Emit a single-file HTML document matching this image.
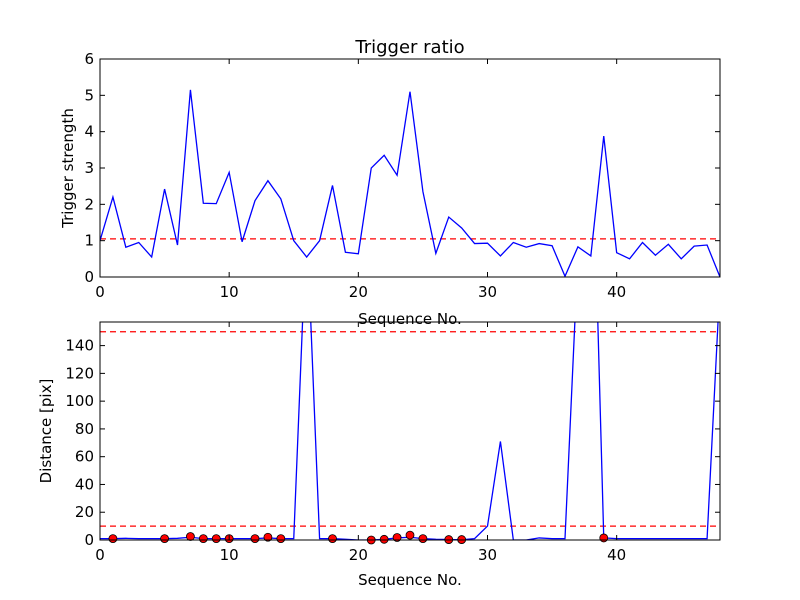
<!DOCTYPE html>
<html><head><meta charset="utf-8"><style>
body{margin:0;background:#fff;}
svg{display:block;font-family:"DejaVu Sans","Liberation Sans",sans-serif;}
</style></head><body>
<svg id="chart" width="800" height="600">
<rect width="800" height="600" fill="#fff"/>
<text x="410" y="53" font-size="18" text-anchor="middle">Trigger ratio</text>
<g id="top"></g><g id="bot"></g>
<text x="410" y="324" font-size="15" text-anchor="middle">Sequence No.</text>
<text x="410" y="585" font-size="15" text-anchor="middle">Sequence No.</text>
<text transform="translate(73,168) rotate(-90)" font-size="15" text-anchor="middle">Trigger strength</text>
<text transform="translate(51,431) rotate(-90)" font-size="15" text-anchor="middle">Distance [pix]</text>
</svg>
<script>
const strength=[1.0,2.2,0.82,0.95,0.55,2.42,0.88,5.15,2.03,2.02,2.88,0.97,2.1,2.65,2.15,1.0,0.55,1.0,2.52,0.68,0.64,3.0,3.35,2.8,5.1,2.35,0.65,1.65,1.35,0.92,0.93,0.58,0.95,0.82,0.92,0.86,0.02,0.83,0.58,3.88,0.67,0.5,0.95,0.6,0.9,0.5,0.85,0.88,0.0];
const strengthThreshold=1.05;
const distance=[1,1,1.2,1,1,1,1.2,2,1,1,1,1,1,1.5,1,1,230,1,1,0.5,0,0,0.5,1.5,2,1,0.5,0.3,0.2,1,10,71,0,0,1.5,1,1,205,340,1.5,1,1,1,1,1,1,1,1,185];
const dotIdx=[1,5,7,8,9,10,12,13,14,18,21,22,23,24,25,27,28,39];
const dotVal=[1,1,2.5,1,1,1,1,2,1,1,0,0.5,1.8,3.5,1,0.3,0.3,1.5];
const distThresholds=[10,150];
const xTicks=[0,10,20,30,40];
const topYTicks=[0,1,2,3,4,5,6];
const botYTicks=[0,20,40,60,80,100,120,140];
const NS='http://www.w3.org/2000/svg';
const L=100,R=720;
const xs=v=>L+v*(R-L)/48;
function mk(p,t,a){const e=document.createElementNS(NS,t);for(const k in a)e.setAttribute(k,a[k]);p.appendChild(e);return e;}
function panel(g,top,bot,ymax,name){
  const ys=v=>bot-v*(bot-top)/ymax;
  const cp=mk(g,'clipPath',{id:'c'+name});mk(cp,'rect',{x:L,y:top,width:R-L,height:bot-top});
  return ys;
}
function axes(g,top,bot,ys,yt,name){
  const f=mk(g,'rect',{x:L,y:top,width:R-L,height:bot-top,fill:'none',stroke:'#000','stroke-width':1});
  
  xTicks.forEach(t=>{const x=xs(t);
    mk(g,'line',{x1:x,x2:x,y1:bot,y2:bot-5,stroke:'#000'});mk(g,'line',{x1:x,x2:x,y1:top,y2:top+5,stroke:'#000'});
    const tx=mk(g,'text',{x:x,y:bot+20,'font-size':15,'text-anchor':'middle'});tx.textContent=t;
    });
  yt.forEach(t=>{const y=ys(t);
    mk(g,'line',{x1:L,x2:L+5,y1:y,y2:y,stroke:'#000'});mk(g,'line',{x1:R,x2:R-5,y1:y,y2:y,stroke:'#000'});
    const tx=mk(g,'text',{x:L-6,y:y+5,'font-size':15,'text-anchor':'end'});tx.textContent=t;
    });
}
const gt=document.getElementById('top');
const ysT=panel(gt,59,277,6,'top');
let l=mk(gt,'line',{x1:L,x2:R,y1:ysT(strengthThreshold),y2:ysT(strengthThreshold),stroke:'red','stroke-dasharray':'6,4','stroke-width':1.3});

let p=mk(gt,'polyline',{points:strength.map((v,i)=>xs(i)+','+ysT(v)).join(' '),fill:'none',stroke:'blue','stroke-width':1.3,'clip-path':'url(#ctop)'});

axes(gt,59,277,ysT,topYTicks,'top');
const gb=document.getElementById('bot');
const ysB=panel(gb,322,540,157,'bot');
distThresholds.forEach(t=>{const e=mk(gb,'line',{x1:L,x2:R,y1:ysB(t),y2:ysB(t),stroke:'red','stroke-dasharray':'6,4','stroke-width':1.3});
  });
p=mk(gb,'polyline',{points:distance.map((v,i)=>xs(i)+','+ysB(v)).join(' '),fill:'none',stroke:'blue','stroke-width':1.3,'clip-path':'url(#cbot)'});

dotIdx.forEach((ix,k)=>{const c=mk(gb,'circle',{cx:xs(ix),cy:ysB(dotVal[k]),r:4,fill:'red',stroke:'#000','stroke-width':0.8});
  });
axes(gb,322,540,ysB,botYTicks,'bottom');
</script>
</body></html>
